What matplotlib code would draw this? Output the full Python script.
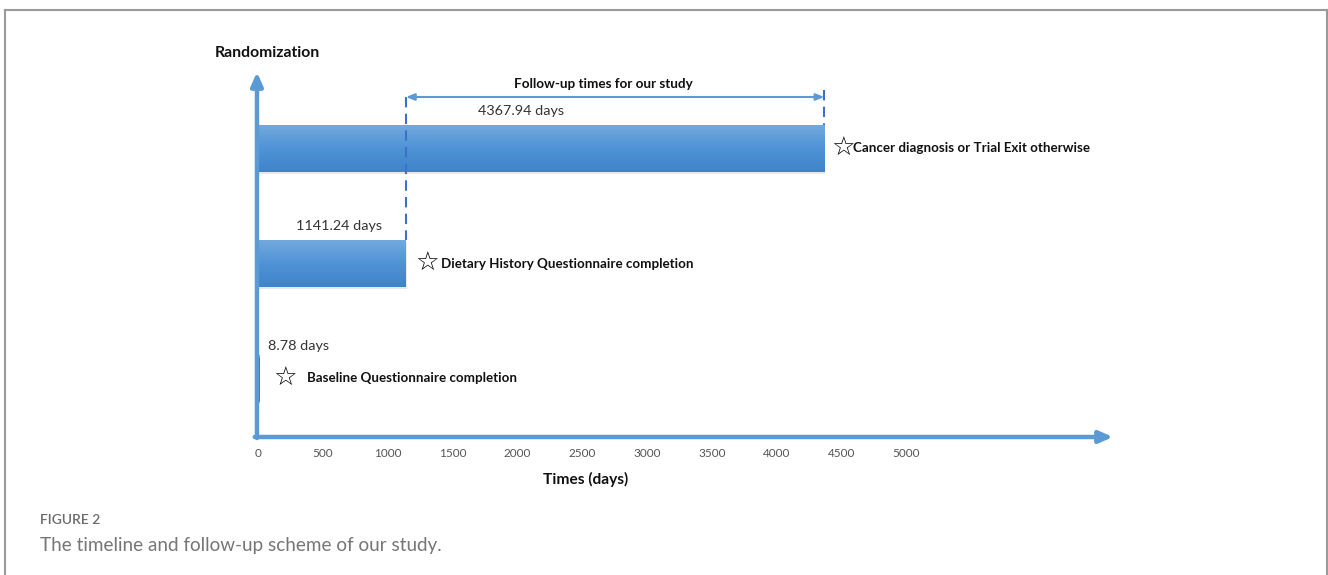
import matplotlib
matplotlib.use("Agg")
import matplotlib.pyplot as plt
import numpy as np
from matplotlib.colors import LinearSegmentedColormap
from matplotlib.lines import Line2D

plt.rcParams['font.family'] = ['Lato', 'DejaVu Sans']

# data
events = ["Cancer diagnosis or Trial Exit otherwise",
          "Dietary History Questionnaire completion",
          "Baseline Questionnaire completion"]
days = [4367.94, 1141.24, 8.78]
day_labels = ["4367.94 days", "1141.24 days", "8.78 days"]
ticks = [0, 500, 1000, 1500, 2000, 2500, 3000, 3500, 4000, 4500, 5000]
followup = (1141.24, 4367.94)

W, H = 1328, 575
fig = plt.figure(figsize=(W / 100, H / 100), dpi=100)

# axes: x in days, y in pixel rows from top (72..437)
px_per_day = 0.12966
x0, x1 = 258, 1113
ytop, ybot = 72, 437
ax = fig.add_axes([x0 / W, (H - ybot) / H, (x1 - x0) / W, (ybot - ytop) / H])
xmax = (x1 - x0) / px_per_day

rows = [148.5, 263.5, 378.5]
bh = 47

cmap = LinearSegmentedColormap.from_list("bar", ["#72a9dd", "#4f93d6", "#3f84c9"])
grad = np.linspace(0, 1, 100).reshape(-1, 1)
bars = ax.barh(rows, days, height=bh, color="#4f93d6", edgecolor="none", zorder=2)
for b, y, v in zip(bars, rows, days):
    # soft shadow
    ax.barh(y + 2, v + 6, height=bh, color="#d9d9d9", alpha=0.6, zorder=1, edgecolor="none")
    im = ax.imshow(grad, extent=[0, v, y + bh / 2, y - bh / 2], aspect="auto",
                   cmap=cmap, zorder=3)
    im.set_clip_path(b)
ax.barh(rows[2], days[2] * 1.5, height=bh - 6, color="#3a78b8", zorder=4)

ax.set_xlim(0, xmax)
ax.set_ylim(ybot, ytop)
for s in ax.spines.values():
    s.set_visible(False)
ax.set_yticks([])
ax.set_xticks(ticks)
ax.set_xticklabels([str(t) for t in ticks], fontsize=8.5, color="#555555")
ax.tick_params(axis="x", length=0, pad=8)

axis_col = "#5b9bd5"
# x axis arrow
ax.annotate("", xy=(xmax, ybot), xytext=(-25, ybot), xycoords="data",
            arrowprops=dict(arrowstyle="-|>,head_length=0.8,head_width=0.35",
                            color=axis_col, lw=3.2, shrinkA=0, shrinkB=0),
            annotation_clip=False, zorder=5)
# y axis arrow
ax.annotate("", xy=(-8, ytop), xytext=(-8, ybot + 1), xycoords="data",
            arrowprops=dict(arrowstyle="-|>,head_length=0.8,head_width=0.35",
                            color=axis_col, lw=3.2, shrinkA=0, shrinkB=0),
            annotation_clip=False, zorder=5)

# follow-up bracket
dash_col = "#3f6fc8"
ax.plot([followup[0], followup[0]], [97, 240], ls=(0, (5, 3)), color=dash_col, lw=1.5, zorder=4)
ax.plot([followup[1], followup[1]], [90, 125], ls=(0, (5, 3)), color=dash_col, lw=1.5, zorder=4)
ax.annotate("", xy=(followup[1], 97), xytext=(followup[0], 97),
            arrowprops=dict(arrowstyle="<|-|>,head_length=0.5,head_width=0.2",
                            color=axis_col, lw=1.5, shrinkA=0, shrinkB=0),
            annotation_clip=False)
ax.text(2660, 84, "Follow-up times for our study", ha="center", va="center",
        fontsize=9.7, fontweight="bold", color="#111111")

# day labels
ax.text(2030, 111, day_labels[0], ha="center", va="center", fontsize=10.4, color="#333333")
ax.text(625, 226, day_labels[1], ha="center", va="center", fontsize=10.4, color="#333333")
ax.text(77, 346, day_labels[2], ha="left", va="center", fontsize=10.4, color="#333333")

# stars and event labels
star_off = [19, 21, 26]
text_off = [29, 35, 48]
for y, v, name, so, to in zip(rows, days, events, star_off, text_off):
    ax.annotate("\u2606", xy=(v, y), xytext=(so * 0.72, 0), textcoords="offset points",
                ha="center", va="center", fontsize=19, color="black",
                family="DejaVu Sans", annotation_clip=False)
    ax.annotate(name, xy=(v, y), xytext=(to * 0.72, 0), textcoords="offset points",
                ha="left", va="center", fontsize=9.65, fontweight="bold", color="#111111",
                annotation_clip=False)

fig.text(267 / W, 1 - 53 / H, "Randomization", ha="center", va="center",
         fontsize=11.3, fontweight="bold", color="#111111")
fig.text(586 / W, 1 - 479 / H, "Times (days)", ha="center", va="center",
         fontsize=11.2, fontweight="bold", color="#111111")

# caption
fig.text(40 / W, 1 - 520 / H, "FIGURE 2", ha="left", va="center",
         fontsize=10, fontweight="semibold", color="#6b6b6b")
fig.text(40 / W, 1 - 546 / H, "The timeline and follow-up scheme of our study.",
         ha="left", va="center", fontsize=13.6, color="#767676")

# frame
frame_col = "#9a9a9a"
fig.add_artist(Line2D([4.5 / W, 4.5 / W], [0, 1 - 9.5 / H], color=frame_col, lw=1.5))
fig.add_artist(Line2D([4.5 / W, 1327 / W], [1 - 9.5 / H, 1 - 9.5 / H], color=frame_col, lw=1.5))
fig.add_artist(Line2D([1327 / W, 1327 / W], [0, 1 - 9.5 / H], color=frame_col, lw=1.5))

fig.savefig("out.png", dpi=100)
